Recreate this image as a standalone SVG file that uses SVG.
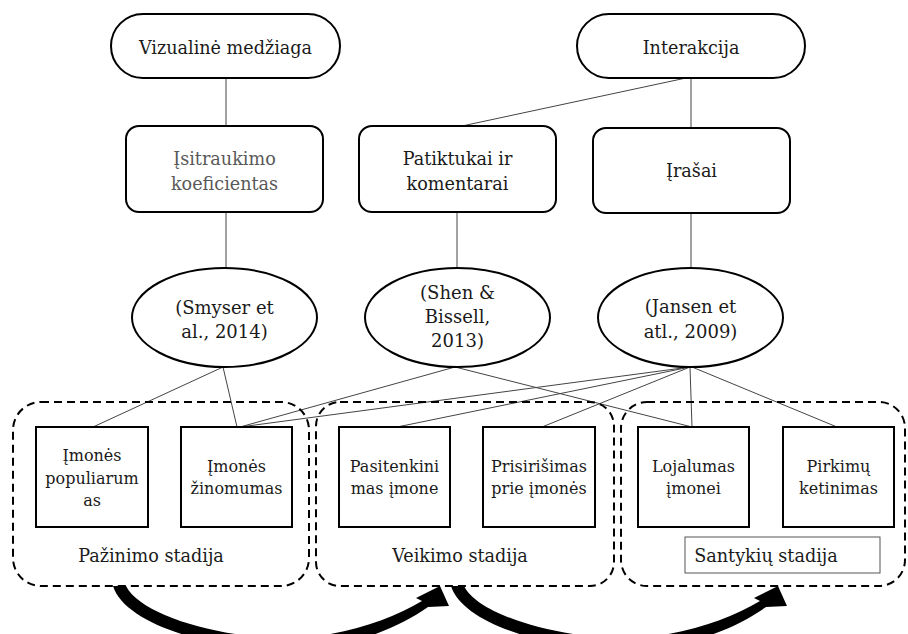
<svg xmlns="http://www.w3.org/2000/svg" width="908" height="634" viewBox="0 0 908 634">
<style>
text{font-family:"DejaVu Serif","Liberation Serif",serif;fill:#1a1a1a;text-anchor:middle}
.t{font-size:17.6px}
.e{font-size:18px}
.s{font-size:16px}
.node{fill:#fff;stroke:#000;stroke-width:2}
.con{stroke:#444;stroke-width:1;fill:none}
.grp{fill:none;stroke:#000;stroke-width:2;stroke-dasharray:8 5}
.arr{fill:#000}
</style>
<rect width="908" height="634" fill="#fff"/>
<g id="connectors">
<line class="con" x1="226" y1="78" x2="226" y2="126"/>
<line class="con" x1="686" y1="78" x2="462" y2="126"/>
<line class="con" x1="691" y1="78" x2="691" y2="128"/>
<line class="con" x1="226" y1="212" x2="226" y2="268"/>
<line class="con" x1="457" y1="212" x2="457" y2="268"/>
<line class="con" x1="691" y1="213" x2="691" y2="268"/>
<line class="con" x1="223" y1="367" x2="93" y2="427"/>
<line class="con" x1="223" y1="367" x2="237" y2="427"/>
<line class="con" x1="455" y1="367" x2="240" y2="427"/>
<line class="con" x1="455" y1="367" x2="692" y2="427"/>
<line class="con" x1="690" y1="367" x2="240" y2="427"/>
<line class="con" x1="690" y1="367" x2="397" y2="427"/>
<line class="con" x1="690" y1="367" x2="542" y2="427"/>
<line class="con" x1="690" y1="367" x2="692" y2="427"/>
<line class="con" x1="692" y1="367" x2="837" y2="427"/>
</g>
<g id="stage-pazinimo">
<rect class="grp" x="13" y="402" width="296" height="184" rx="28"/>
<text class="t" x="151" y="562">Pažinimo stadija</text>
</g>
<g id="stage-veikimo">
<rect class="grp" x="316" y="402" width="298" height="184" rx="24"/>
<text class="t" x="460" y="562">Veikimo stadija</text>
</g>
<g id="stage-santykiu">
<rect class="grp" x="621" y="402" width="284" height="184" rx="26"/>
<rect x="685" y="537" width="195" height="36" fill="#fff" stroke="#555" stroke-width="1"/>
<text class="t" x="766" y="562">Santykių stadija</text>
</g>
<g id="vizualine">
<rect class="node" x="111" y="14" width="229" height="64" rx="32"/>
<text class="t" x="225.5" y="54">Vizualinė medžiaga</text>
</g>
<g id="interakcija">
<rect class="node" x="577" y="14" width="228" height="64" rx="32"/>
<text class="t" x="691" y="54">Interakcija</text>
</g>
<g id="isitraukimo">
<rect class="node" x="126" y="126" width="197" height="86" rx="13"/>
<text class="t" x="224.5" y="165" style="fill:#595959">Įsitraukimo</text>
<text class="t" x="224.5" y="190" style="fill:#595959">koeficientas</text>
</g>
<g id="patiktukai">
<rect class="node" x="359" y="126" width="197" height="86" rx="13"/>
<text class="t" x="457.5" y="165">Patiktukai ir</text>
<text class="t" x="457.5" y="190">komentarai</text>
</g>
<g id="irasai">
<rect class="node" x="593" y="128" width="197" height="85" rx="13"/>
<text class="t" x="691.5" y="177">Įrašai</text>
</g>
<g id="smyser">
<ellipse class="node" cx="224.5" cy="317.5" rx="92.5" ry="49.5"/>
<text class="e" x="224.5" y="314">(Smyser et</text>
<text class="e" x="224.5" y="338">al., 2014)</text>
</g>
<g id="shen">
<ellipse class="node" cx="457.5" cy="317.5" rx="92.5" ry="49.5"/>
<text class="e" x="457.5" y="299">(Shen &amp;</text>
<text class="e" x="457.5" y="323">Bissell,</text>
<text class="e" x="457.5" y="347">2013)</text>
</g>
<g id="jansen">
<ellipse class="node" cx="690.5" cy="317.5" rx="92.5" ry="49.5"/>
<text class="e" x="690.5" y="313">(Jansen et</text>
<text class="e" x="690.5" y="338">atl., 2009)</text>
</g>
<g id="populiarumas">
<rect class="node" x="36" y="427" width="112" height="100"/>
<text class="s" x="92" y="461">Įmonės</text>
<text class="s" x="92" y="484">populiarum</text>
<text class="s" x="92" y="506">as</text>
</g>
<g id="zinomumas">
<rect class="node" x="181" y="427" width="111" height="100"/>
<text class="s" x="236.5" y="472">Įmonės</text>
<text class="s" x="236.5" y="494">žinomumas</text>
</g>
<g id="pasitenkinimas">
<rect class="node" x="339" y="427" width="111" height="100"/>
<text class="s" x="394.5" y="472">Pasitenkini</text>
<text class="s" x="394.5" y="494">mas įmone</text>
</g>
<g id="prisirisimas">
<rect class="node" x="483" y="427" width="112" height="100"/>
<text class="s" x="539" y="472">Prisirišimas</text>
<text class="s" x="539" y="494">prie įmonės</text>
</g>
<g id="lojalumas">
<rect class="node" x="638" y="427" width="111" height="100"/>
<text class="s" x="693.5" y="472">Lojalumas</text>
<text class="s" x="693.5" y="494">įmonei</text>
</g>
<g id="pirkimu">
<rect class="node" x="783" y="427" width="111" height="100"/>
<text class="s" x="838.5" y="472">Pirkimų</text>
<text class="s" x="838.5" y="494">ketinimas</text>
</g>
<g id="arrows">
<path id="arr1" class="arr" d="M113,586 C125,625 215,650 285,650 C345,650 395,630 428,607 L449,606 L440,586 L416,598 L422,601 C390,620 340,638 285,638 C220,638 140,615 126,586 Z"/>
<path class="arr" transform="translate(338,0)" d="M113,586 C125,625 215,650 285,650 C345,650 395,630 428,607 L449,606 L440,586 L416,598 L422,601 C390,620 340,638 285,638 C220,638 140,615 126,586 Z"/>
</g>
</svg>
